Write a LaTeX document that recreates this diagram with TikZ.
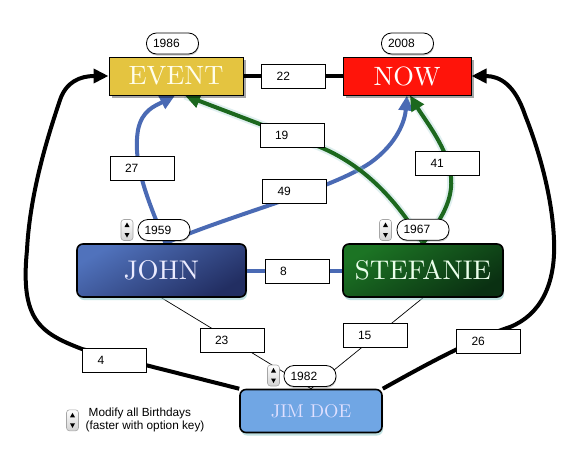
\documentclass[tikz,border=0pt]{standalone}
\usepackage{fontspec}
\newfontfamily\lblfont{Liberation Sans}
\newfontfamily\boxfont{lmroman10-regular}[Extension=.otf]
\usetikzlibrary{arrows.meta,shadows,backgrounds}
\definecolor{evtcol}{RGB}{228,196,64}
\definecolor{nowcol}{RGB}{255,20,10}
\definecolor{johnA}{RGB}{80,114,188}
\definecolor{johnB}{RGB}{34,46,98}
\definecolor{stefA}{RGB}{28,116,36}
\definecolor{stefB}{RGB}{10,48,18}
\definecolor{jimcol}{RGB}{112,166,228}
\definecolor{edgeblue}{RGB}{74,106,180}
\definecolor{edgegreen}{RGB}{28,104,30}
\definecolor{glowcol}{RGB}{150,205,205}
\begin{document}
\begin{tikzpicture}[x=1pt,y=-1pt,
  bigbox/.style={draw=black, line width=1pt, inner sep=0pt, text=white,
    font=\boxfont\fontsize{26.5}{30}\selectfont,
    drop shadow={shadow xshift=2.5pt,shadow yshift=-3pt,fill=black,opacity=0.35}},
  rbox/.style={draw=black, line width=1.6pt, rounded corners=6pt, inner sep=0pt, text=white,
    drop shadow={shadow xshift=1pt,shadow yshift=-3pt,fill=glowcol,opacity=0.6}},
  lbl/.style={draw=black, line width=0.8pt, fill=white, minimum height=24pt,
    text width=34pt, inner xsep=15pt, inner ysep=0pt, align=left,
    font=\lblfont\fontsize{12}{14}\selectfont},
  pill/.style={draw=black, line width=0.8pt, fill=white, rounded corners=10pt,
    minimum height=21pt, text width=39pt, inner xsep=6.5pt, inner ysep=0pt, align=left,
    font=\lblfont\fontsize{12}{14}\selectfont,
    drop shadow={shadow xshift=0.5pt,shadow yshift=-1.5pt,fill=black,opacity=0.2}},
  legendtext/.style={inner sep=0pt, anchor=base west, font=\lblfont\fontsize{11.8}{13}\selectfont},
  blk/.style={draw=black, line width=4pt},
  bluee/.style={draw=edgeblue, line width=4pt},
  greene/.style={draw=edgegreen, line width=4pt,
    preaction={draw=glowcol, line width=8pt, draw opacity=0.3, arrows=-}},
  thinline/.style={draw=black, line width=0.7pt},
  tipb/.style={-{Triangle[length=15pt,width=14pt]}},
  spinpic/.pic={
    \draw[gray!70, line width=0.6pt, top color=white, bottom color=gray!35, rounded corners=3pt]
      (-6,-10.5) rectangle (6,10.5);
    \fill[black] (-2.5,-3) -- (2.5,-3) -- (0,-7.5) -- cycle;
    \fill[black] (-2.5,3) -- (2.5,3) -- (0,7.5) -- cycle;
  }
]
\useasboundingbox (0,0) rectangle (586,463);

% main boxes
\node[bigbox, fill=evtcol, minimum width=134pt, minimum height=38pt, text=white!92!yellow] (EVENT) at (176,76) {EVENT};
\node[bigbox, fill=nowcol, minimum width=128pt, minimum height=38pt] (NOW) at (407,76) {NOW};
\node[rbox, top color=johnA, bottom color=johnB, shading angle=30, minimum width=169pt, minimum height=53pt,
  font=\boxfont\fontsize{27}{30}\selectfont, text=white!92!blue] (JOHN) at (161.5,270.5) {JOHN};
\node[rbox, top color=stefA, bottom color=stefB, shading angle=30, minimum width=160pt, minimum height=53pt,
  font=\boxfont\fontsize{27}{30}\selectfont, text=white!92!green] (STEFANIE) at (423,270.5) {STEFANIE};
\node[rbox, fill=jimcol, minimum width=142pt, minimum height=43pt,
  font=\boxfont\fontsize{18.5}{20}\selectfont, text=white!88!blue] (JIMDOE) at (311,411) {JIM DOE};

% connectors
\begin{scope}[on background layer]
\fill[white] (0,0) rectangle (586,463);
\draw[blk, tipb] (JIMDOE.north west) -- (82,349) .. controls (40,333) and (20,320) .. (27,250)
  .. controls (30,190) and (50,130) .. (60,100) .. controls (66,82) and (80,76) .. (EVENT.west);
\draw[blk, tipb] (JIMDOE.north east) .. controls (420,368) and (470,340) .. (510,327)
  .. controls (540,315) and (556,285) .. (554,240) .. controls (552,190) and (535,140) .. (525,115)
  .. controls (515,85) and (500,76) .. (NOW.east);
\draw[blk] (EVENT.east) -- (NOW.west);
\draw[bluee] (JOHN.east) -- (STEFANIE.west);
\draw[bluee, tipb] ([xshift=4pt]JOHN.north) .. controls (150,205) and (132,165) .. (138,130)
  .. controls (142,110) and (155,106) .. ([xshift=-1pt]EVENT.south);
\draw[bluee, tipb] ([xshift=4pt]JOHN.north) .. controls (230,215) and (330,190) .. (370,163)
  .. controls (398,143) and (405,120) .. (NOW.south);
\draw[greene, tipb] (STEFANIE.north) .. controls (405,215) and (375,170) .. (320,147)
  -- ([xshift=9pt]EVENT.south);
\draw[greene, tipb] (STEFANIE.north) .. controls (445,215) and (455,195) .. (450,170)
  .. controls (445,145) and (425,120) .. ([xshift=3pt]NOW.south);
\draw[thinline] (JOHN.south) -- (JIMDOE.north);
\draw[thinline] (STEFANIE.south) -- (JIMDOE.north);
\end{scope}

% edge labels
\node[lbl] (l22) at (293.7,76.3) {22};
\node[lbl] (l19) at (292,135.3) {19};
\node[lbl] (l27) at (142,168) {27};
\node[lbl] (l49) at (294.5,191) {49};
\node[lbl] (l41) at (447.5,163) {41};
\node[lbl] (l8) at (297,271) {8};
\node[lbl] (l23) at (232,340.3) {23};
\node[lbl] (l15) at (375,335.5) {15};
\node[lbl] (l4) at (114.5,360.3) {4};
\node[lbl] (l26) at (488.5,341) {26};

% year pills
\node[pill, minimum width=52pt] (p1986) at (172.5,43.5) {1986};
\node[pill, minimum width=52pt] (p2008) at (407.5,43.5) {2008};
\node[pill, minimum width=52pt] (p1959) at (164,230) {1959};
\node[pill, minimum width=52pt] (p1967) at (423,229.7) {1967};
\node[pill, minimum width=52pt] (p1982) at (310,376) {1982};

% spinners
\pic (s1959) at (127,230) {spinpic};
\pic (s1967) at (385.5,230) {spinpic};
\pic (s1982) at (273.5,375.5) {spinpic};
\pic (slegend) at (72.5,420.3) {spinpic};

% legend
\node[legendtext] (legend1) at (88.5,416) {Modify all Birthdays};
\node[legendtext] (legend2) at (85.5,429) {(faster with option key)};
\end{tikzpicture}
\end{document}
